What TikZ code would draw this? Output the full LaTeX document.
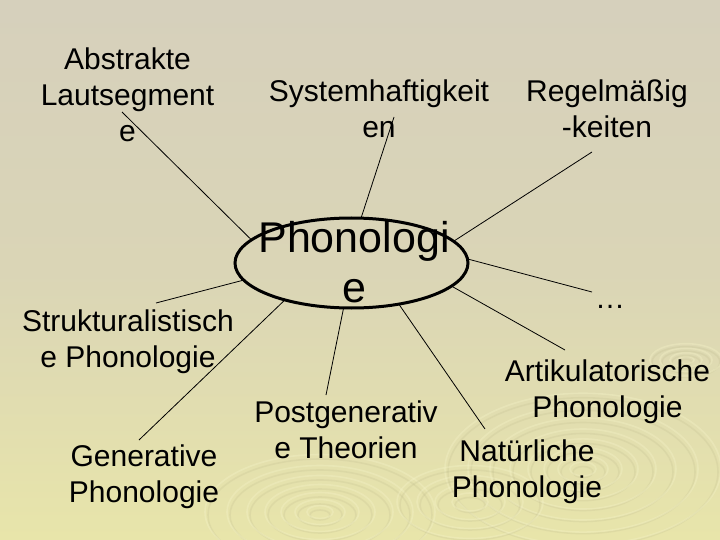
\documentclass[tikz,border=0pt]{standalone}
\usepackage{fontspec}
\setmainfont{Liberation Sans}
\usetikzlibrary{shapes.geometric}
\definecolor{bgtop}{RGB}{214,208,188}
\definecolor{bgmid}{RGB}{218,213,182}
\definecolor{bgbot}{RGB}{232,229,170}
\definecolor{ringlo}{RGB}{190,186,140}
\definecolor{ringhi}{RGB}{245,243,200}
\begin{document}
\begin{tikzpicture}[x=1pt,y=-1pt,
  lbl/.style={font=\fontsize{30}{36}\selectfont, align=center, anchor=base, inner sep=0pt},
  bigtxt/.style={font=\fontsize{43}{50}\selectfont, align=center, anchor=base, inner sep=0pt},
  conn/.style={draw=black, line width=0.8pt},
  ringa/.style={draw=ringlo, line width=1.6pt, opacity=0.22},
  ringb/.style={draw=ringhi, line width=1.6pt, opacity=0.35}]
\fill[top color=bgtop, bottom color=bgbot, middle color=bgmid] (0,0) rectangle (720,540);
\useasboundingbox (0,0) rectangle (720,540);
% ripples
\foreach \r in {10,22,36,52,70,90,112}{
  \draw[ringa] (320,515) ellipse [x radius=\r, y radius=0.5*\r];
  \draw[ringb] (320,512) ellipse [x radius=\r+3, y radius=0.5*\r+1.5];
}
\foreach \r in {10,22,36,52,70,90,112,135}{
  \draw[ringa] (583,472) ellipse [x radius=\r, y radius=0.55*\r];
  \draw[ringb] (583,469) ellipse [x radius=\r+3, y radius=0.55*\r+1.5];
}
\foreach \r in {15,32,50,70}{
  \draw[ringa] (470,505) ellipse [x radius=\r, y radius=0.5*\r];
  \draw[ringb] (470,502) ellipse [x radius=\r+3, y radius=0.5*\r+1.5];
}
\foreach \r in {6,14,24,34}{
  \draw[ringa] (686,362) ellipse [x radius=\r, y radius=0.45*\r];
  \draw[ringb] (686,360) ellipse [x radius=\r+2, y radius=0.45*\r+1];
}
% central ellipse
\node[ellipse, minimum width=233pt, minimum height=90pt, inner sep=0pt, outer sep=0pt] (ph) at (351.5,263) {};
% labels (anchor = baseline of last line)
\node[lbl] (abs) at (127.5,142) {Abstrakte\\Lautsegment\\e};
\node[lbl] (sys) at (379,138) {Systemhaftigkeit\\en};
\node[lbl] (reg) at (607,138) {Regelmäßig\\-keiten};
\node[lbl] (dots) at (610,308) {…};
\node[lbl] (art) at (607.5,417) {Artikulatorische\\Phonologie};
\node[lbl] (nat) at (527,497) {Natürliche\\Phonologie};
\node[lbl] (post) at (346,458) {Postgenerativ\\e Theorien};
\node[lbl] (gen) at (144,502) {Generative\\Phonologie};
\node[lbl] (str) at (128,367) {Strukturalistisch\\e Phonologie};
% connector free ends
\coordinate (absE) at (122,112);
\coordinate (sysE) at (394,117);
\coordinate (regE) at (592,152);
\coordinate (dotsE) at (592,292);
\coordinate (artE) at (565,350);
\coordinate (natE) at (485,429);
\coordinate (postE) at (326,395);
\coordinate (genE) at (139,440);
\coordinate (strE) at (156,303);
\draw[conn] (absE) -- (ph.167);
\draw[conn] (sysE) -- (ph.78);
\draw[conn] (regE) -- (ph.12.5);
\draw[conn] (dotsE) -- (ph.2.5);
\draw[conn] (artE) -- (ph.-13.3);
\draw[conn] (natE) -- (ph.-41);
\draw[conn] (postE) -- (ph.-100.5);
\draw[conn] (genE) -- (ph.209.6);
\draw[conn] (strE) -- (ph.189.8);
\draw[line width=3pt] (ph.center) ellipse [x radius=116.5, y radius=45];
\node[bigtxt] (phtxt) at (354,302) {Phonologi\\e};
\end{tikzpicture}
\end{document}
